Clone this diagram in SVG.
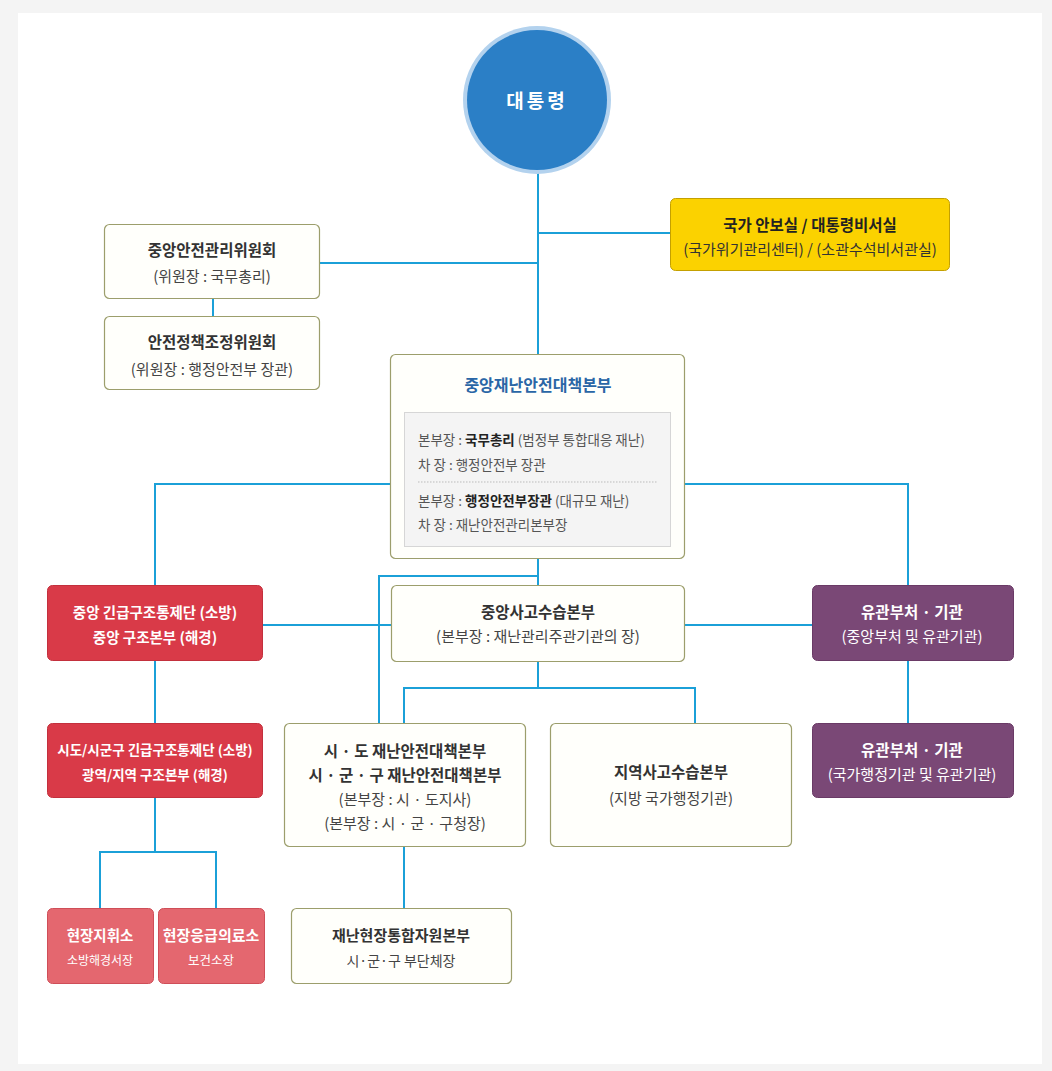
<svg xmlns="http://www.w3.org/2000/svg" width="1052" height="1071" viewBox="0 0 1052 1071">
<style>
text{font-family:"Noto Sans CJK KR","Noto Sans",sans-serif;text-anchor:middle}
.t{font-size:15.5px;font-weight:bold;fill:#333}
.s{font-size:15px;fill:#444}
.w{fill:#fff}
.box{fill:#fffffb;stroke:#9c9e6c;stroke-width:1.2}
.red{fill:#d93a48;stroke:#c3303d;stroke-width:1}
.pink{fill:#e4676f;stroke:#cf4e58;stroke-width:1}
.pur{fill:#7a4876;stroke:#6a3a66;stroke-width:1}
.in{font-size:13.5px;fill:#555;text-anchor:start}
.r{font-size:14.5px;font-weight:bold;fill:#fff}
#connectors path{fill:none;stroke:#1ba0d8;stroke-width:2}
</style>
<rect x="0" y="0" width="1052" height="1071" fill="#f4f4f4"/>
<rect x="18" y="13" width="1024" height="1051" fill="#ffffff"/>

<g id="connectors">
<path d="M538 172V354"/>
<path d="M538 233H670"/>
<path d="M320 263H538"/>
<path d="M213 298V316"/>
<path d="M390 484H155V585"/>
<path d="M685 484H908V585"/>
<path d="M538 559V585"/>
<path d="M538 576H379V723"/>
<path d="M263 625H391"/>
<path d="M685 625H812"/>
<path d="M155 660V723"/>
<path d="M908 660V723"/>
<path d="M538 661V688"/>
<path d="M404 723V688H695V723"/>
<path d="M155 797V852"/>
<path d="M100 908V852H216V908"/>
<path d="M404 846V908"/>
</g>

<g id="president">
<circle cx="537" cy="100" r="74" fill="#b3d2ee"/>
<circle cx="537" cy="100" r="70" fill="#2b7fc6"/>
<text x="537" y="108" class="w" style="font-size:19px;font-weight:bold;letter-spacing:3px">대통령</text>
</g>

<g id="security">
<rect x="670.500" y="198.500" width="279" height="72" rx="5" fill="#fbd200" stroke="#c4a000"/>
<text x="810" y="231" class="t" style="fill:#222">국가 안보실 / 대통령비서실</text>
<text x="810" y="255" class="s" style="fill:#333">(국가위기관리센터) / (소관수석비서관실)</text>
</g>

<g id="central-committee">
<rect x="104.500" y="224.500" width="215" height="74" rx="5" class="box"/>
<text x="212" y="256" class="t">중앙안전관리위원회</text>
<text x="212" y="282" class="s">(위원장 : 국무총리)</text>
</g>

<g id="policy-committee">
<rect x="104.500" y="316.500" width="215" height="73" rx="5" class="box"/>
<text x="212" y="348" class="t">안전정책조정위원회</text>
<text x="212" y="375" class="s">(위원장 : 행정안전부 장관)</text>
</g>

<g id="central-hq">
<rect x="390.500" y="354.500" width="294" height="204" rx="5" class="box"/>
<text x="538" y="391" class="t" style="font-size:16px;fill:#2a66a6">중앙재난안전대책본부</text>
<rect x="404.500" y="412.500" width="266" height="134" fill="#f4f4f4" stroke="#d6d6d6"/>
<line x1="418" y1="482" x2="657" y2="482" stroke="#bbb" stroke-dasharray="1.5 1.5"/>
<text x="418" y="445" class="in">본부장 : <tspan style="font-weight:bold;fill:#222">국무총리</tspan> (범정부 통합대응 재난)</text>
<text x="418" y="470" class="in">차 장 : 행정안전부 장관</text>
<text x="418" y="506" class="in">본부장 : <tspan style="font-weight:bold;fill:#222">행정안전부장관</tspan> (대규모 재난)</text>
<text x="418" y="530" class="in">차 장 : 재난안전관리본부장</text>
</g>

<g id="central-rescue">
<rect x="47.500" y="585.500" width="215" height="75" rx="5" class="red"/>
<text x="155" y="618" class="r">중앙 긴급구조통제단 (소방)</text>
<text x="155" y="643" class="r">중앙 구조본부 (해경)</text>
</g>

<g id="central-accident">
<rect x="391.500" y="585.500" width="293" height="76" rx="5" class="box"/>
<text x="538" y="618" class="t">중앙사고수습본부</text>
<text x="538" y="642" class="s">(본부장 : 재난관리주관기관의 장)</text>
</g>

<g id="related-1">
<rect x="812.500" y="585.500" width="201" height="75" rx="5" class="pur"/>
<text x="912" y="618" class="t w">유관부처 · 기관</text>
<text x="912" y="642" class="s w">(중앙부처 및 유관기관)</text>
</g>

<g id="local-rescue">
<rect x="47.500" y="723.500" width="215" height="74" rx="5" class="red"/>
<text x="155" y="755" class="r" style="font-size:13.5px">시도/시군구 긴급구조통제단 (소방)</text>
<text x="155" y="780" class="r" style="font-size:13.5px">광역/지역 구조본부 (해경)</text>
</g>

<g id="local-hq">
<rect x="284.500" y="723.500" width="241" height="123" rx="5" class="box"/>
<text x="405" y="757" class="t">시 · 도 재난안전대책본부</text>
<text x="405" y="781" class="t">시 · 군 · 구 재난안전대책본부</text>
<text x="405" y="805" class="s">(본부장 : 시 · 도지사)</text>
<text x="405" y="829" class="s">(본부장 : 시 · 군 · 구청장)</text>
</g>

<g id="regional-accident">
<rect x="550.500" y="723.500" width="241" height="123" rx="5" class="box"/>
<text x="671" y="778" class="t">지역사고수습본부</text>
<text x="671" y="804" class="s">(지방 국가행정기관)</text>
</g>

<g id="related-2">
<rect x="812.500" y="723.500" width="201" height="74" rx="5" class="pur"/>
<text x="912" y="756" class="t w">유관부처 · 기관</text>
<text x="912" y="780" class="s w">(국가행정기관 및 유관기관)</text>
</g>

<g id="field-command">
<rect x="47.500" y="908.500" width="106" height="75" rx="5" class="pink"/>
<text x="100" y="941" class="r">현장지휘소</text>
<text x="100" y="965" class="w" style="font-size:12px">소방해경서장</text>
</g>

<g id="field-medical">
<rect x="158.500" y="908.500" width="106" height="75" rx="5" class="pink"/>
<text x="211" y="941" class="r" style="font-size:15px">현장응급의료소</text>
<text x="211" y="965" class="w" style="font-size:12.5px">보건소장</text>
</g>

<g id="field-support">
<rect x="291.500" y="908.500" width="220" height="75" rx="5" class="box"/>
<text x="401" y="941" class="t" style="font-size:15px">재난현장통합자원본부</text>
<text x="401" y="966" class="s" style="font-size:14px">시·군·구 부단체장</text>
</g>
</svg>
